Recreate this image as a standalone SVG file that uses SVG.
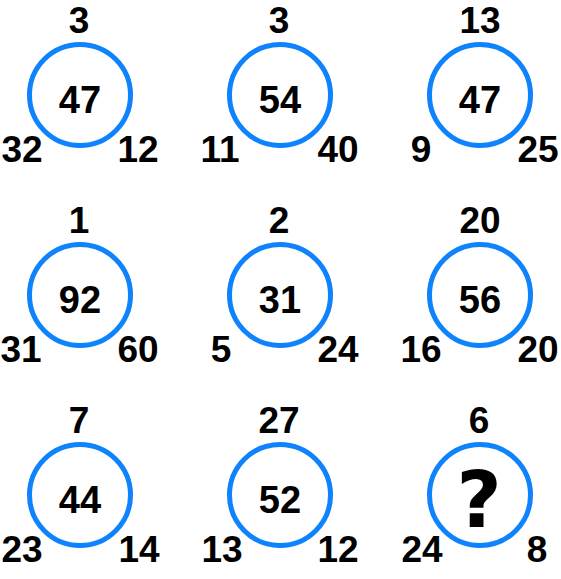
<svg xmlns="http://www.w3.org/2000/svg" width="561" height="579" viewBox="0 0 561 579">
<style>
.c{fill:none;stroke:#0f83fb;stroke-width:5}
text{font-family:"Liberation Sans",Arial,sans-serif;font-weight:bold;fill:#000;text-anchor:middle}
.n{font-size:37px}
.m{font-size:38px}
.q{font-size:78px;font-family:"DejaVu Sans",sans-serif}
</style>
<rect width="561" height="579" fill="#fff"/>
<g id="n1" transform="translate(0,0)"><circle class="c" cx="80" cy="95" r="50.5"/><text class="n" x="79" y="33">3</text><text class="m" x="80" y="113">47</text><text class="n" x="22" y="162">32</text><text class="n" x="138" y="162">12</text></g>
<g id="n2" transform="translate(200,0)"><circle class="c" cx="80" cy="95" r="50.5"/><text class="n" x="79" y="33">3</text><text class="m" x="80" y="113">54</text><text class="n" x="20" y="162">11</text><text class="n" x="138" y="162">40</text></g>
<g id="n3" transform="translate(400,0)"><circle class="c" cx="80" cy="95" r="50.5"/><text class="n" x="80" y="33">13</text><text class="m" x="80" y="113">47</text><text class="n" x="21" y="162">9</text><text class="n" x="138" y="162">25</text></g>
<g id="n4" transform="translate(0,200)"><circle class="c" cx="80" cy="95" r="50.5"/><text class="n" x="79" y="33">1</text><text class="m" x="80" y="113">92</text><text class="n" x="21" y="162">31</text><text class="n" x="138" y="162">60</text></g>
<g id="n5" transform="translate(200,200)"><circle class="c" cx="80" cy="95" r="50.5"/><text class="n" x="79" y="33">2</text><text class="m" x="80" y="113">31</text><text class="n" x="21" y="162">5</text><text class="n" x="138" y="162">24</text></g>
<g id="n6" transform="translate(400,200)"><circle class="c" cx="80" cy="95" r="50.5"/><text class="n" x="80" y="33">20</text><text class="m" x="80" y="113">56</text><text class="n" x="21" y="162">16</text><text class="n" x="138" y="162">20</text></g>
<g id="n7" transform="translate(0,400)"><circle class="c" cx="80" cy="95" r="50.5"/><text class="n" x="79" y="33">7</text><text class="m" x="80" y="113">44</text><text class="n" x="22" y="162">23</text><text class="n" x="139" y="162">14</text></g>
<g id="n8" transform="translate(200,400)"><circle class="c" cx="80" cy="95" r="50.5"/><text class="n" x="79" y="33">27</text><text class="m" x="80" y="113">52</text><text class="n" x="22" y="162">13</text><text class="n" x="138" y="162">12</text></g>
<g id="n9" transform="translate(400,400)"><circle class="c" cx="80" cy="95" r="50.5"/><text class="n" x="79" y="33">6</text><text class="q" x="79" y="127">?</text><text class="n" x="22" y="162">24</text><text class="n" x="137" y="162">8</text></g>
<g id="connectors"/>
</svg>
